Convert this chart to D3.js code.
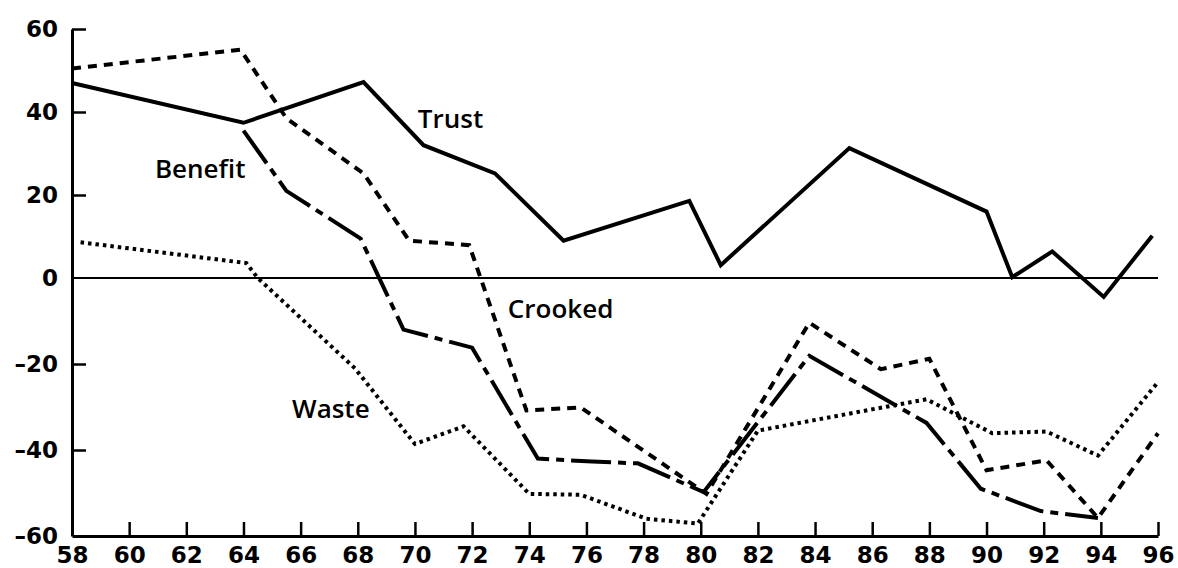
<!DOCTYPE html>
<html>
<head>
<meta charset="utf-8">
<script src="https://cdn.jsdelivr.net/npm/d3@7"></script>
<style>
body { margin: 0; background: #fff; }
.tick text { font-family: "DejaVu Sans", sans-serif; font-weight: bold; font-size: 23px; fill: #000; }
.label { font-family: "Open Sans", sans-serif; font-weight: 600; font-size: 26px; fill: #000; }
</style>
</head>
<body>
<div id="chart"></div>
<script>
// values (years are 19xx)
var xTicks = [58, 60, 62, 64, 66, 68, 70, 72, 74, 76, 78, 80, 82, 84, 86, 88, 90, 92, 94, 96];
var yTicks = [-60, -40, -20, 0, 20, 40, 60];

var trustYears = [58, 64, 68.2, 70.3, 72.8, 75.2, 79.6, 80.7, 85.2, 90, 90.9, 92.3, 94.1, 95.8];
var trustValues = [47, 37.4, 47.2, 32, 25.2, 9, 18.6, 3.1, 31.3, 16, 0.2, 6.4, -4.4, 10.2];

var crookedYears = [58, 63.9, 65.5, 68.2, 69.8, 71.9, 73.9, 75.8, 80.2, 83.8, 86.3, 88, 90, 92.1, 93.9, 96];
var crookedValues = [50.5, 55, 38.5, 25.2, 9, 7.9, -30.8, -30.1, -50.2, -10.4, -21.2, -18.8, -44.7, -42.4, -55.8, -36.1];

var benefitYears = [64, 65.5, 68.1, 69.6, 72, 74.3, 76.2, 77.8, 80.1, 83.8, 87.9, 89.8, 91.9, 93.9];
var benefitValues = [35.5, 21, 9.5, -12, -16.2, -42, -42.7, -43.1, -49.8, -18.1, -33.7, -49, -54.2, -55.8];

var wasteYears = [58.3, 64.1, 64.5, 67.9, 70, 71.7, 74, 75.8, 78.1, 79.9, 82, 87.9, 90.2, 92.1, 93.9, 96];
var wasteValues = [8.6, 3.6, 0, -21, -38.6, -34.5, -50.2, -50.4, -56, -57.1, -35.5, -28.2, -36.1, -35.7, -41.3, -24.2];

var labelNames = ["Trust", "Benefit", "Crooked", "Waste"];
var labelYears = [70.1, 60.9, 73.25, 65.7];
var labelValues = [36.2, 24.2, -9.2, -32.5];

var width = 1178, height = 568;

var svg = d3.select("#chart")
    .append("svg")
    .attr("width", width)
    .attr("height", height);

var x = d3.scaleLinear().domain([58, 96]).range([72, 1158]);
// the scan is not quite even, so pin zero separately
var y = d3.scaleLinear().domain([-60, 0, 60]).range([536, 278, 29]);

var fmt = function (d) { return d < 0 ? "\u2013" + Math.abs(d) : String(d); };

// zero line
svg.append("line")
    .attr("x1", x(58)).attr("x2", x(96))
    .attr("y1", y(0)).attr("y2", y(0))
    .attr("stroke", "#000")
    .attr("stroke-width", 2);

var yAxis = svg.append("g")
    .attr("transform", "translate(" + x(58) + ",0)")
    .call(d3.axisLeft(y).tickValues(yTicks).tickFormat(fmt).tickSize(-14).tickSizeOuter(0).tickPadding(14));

var xAxis = svg.append("g")
    .attr("transform", "translate(0," + y(-60) + ")")
    .call(d3.axisBottom(x).tickValues(xTicks).tickFormat(fmt).tickSize(-14).tickSizeOuter(0).tickPadding(11));

yAxis.select(".domain").attr("stroke-width", 3);
xAxis.select(".domain").attr("stroke-width", 3);
yAxis.selectAll(".tick line").attr("stroke-width", 2.5)
    .filter(function (d) { return d === 0 || d === -60; }).remove();
xAxis.selectAll(".tick line").attr("stroke-width", 2.5)
    .filter(function (d) { return d === 58; }).remove();

function zip(xs, vs) {
    return xs.map(function (d, i) { return [d, vs[i]]; });
}

var line = d3.line()
    .x(function (d) { return x(d[0]); })
    .y(function (d) { return y(d[1]); });

var series = [
    {data: zip(trustYears, trustValues), dash: null, w: 4},
    {data: zip(crookedYears, crookedValues), dash: "9,7", w: 4},
    {data: zip(benefitYears, benefitValues), dash: "40,7,8,7", w: 4},
    {data: zip(wasteYears, wasteValues), dash: "3.5,4", w: 4}
];

svg.append("g")
    .selectAll("path")
    .data(series).enter()
    .append("path")
    .attr("d", function (d) { return line(d.data); })
    .attr("fill", "none")
    .attr("stroke", "#000")
    .attr("stroke-width", function (d) { return d.w; })
    .attr("stroke-dasharray", function (d) { return d.dash; })
    .attr("stroke-linejoin", "miter");

svg.append("g")
    .selectAll("text")
    .data(labelNames).enter()
    .append("text")
    .attr("class", "label")
    .attr("x", function (d, i) { return x(labelYears[i]); })
    .attr("y", function (d, i) { return y(labelValues[i]); })
    .text(function (d) { return d; });
</script>
</body>
</html>
